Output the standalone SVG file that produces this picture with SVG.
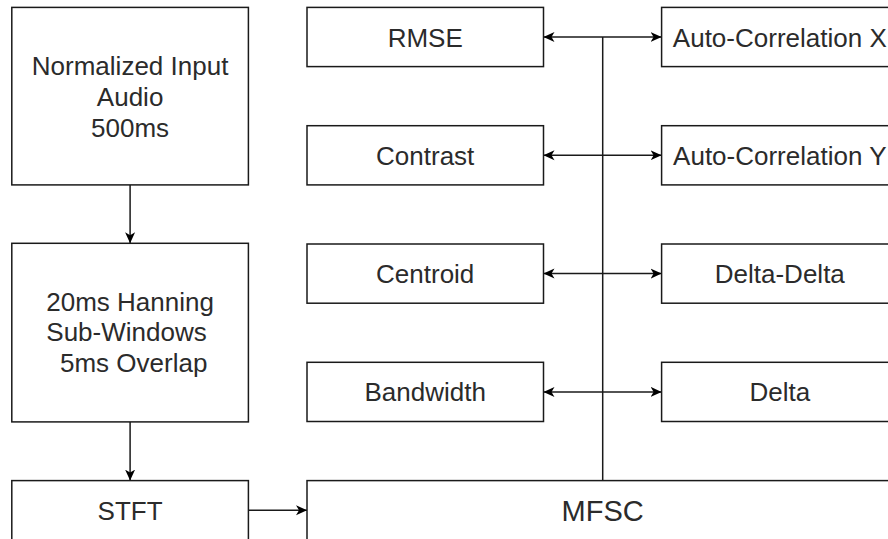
<svg xmlns="http://www.w3.org/2000/svg" width="888" height="539" viewBox="0 0 888 539">
<style>
.box{fill:#ffffff;stroke:#1a1a1a;stroke-width:1.5}
.t{font-family:"Liberation Sans",Arial,sans-serif;font-size:26px;fill:#2b2b2b;text-anchor:middle}
.big{font-size:29px}
.edge{fill:none;stroke:#1a1a1a;stroke-width:1.5}
</style>
<defs>
<marker id="arr" viewBox="0 0 11 11" refX="11" refY="5.5" markerWidth="11" markerHeight="11" markerUnits="userSpaceOnUse" orient="auto-start-reverse">
<path d="M0,0.5 L11,5.5 L0,10.5 L3,5.5 Z" fill="#000000"/>
</marker>
</defs>
<rect width="888" height="539" fill="#ffffff"/>

<g id="connectors">
<line class="edge" x1="130.1" y1="184.9" x2="130.1" y2="243.3" marker-end="url(#arr)"/>
<line class="edge" x1="130.1" y1="421.9" x2="130.1" y2="480.6" marker-end="url(#arr)"/>
<line class="edge" x1="248.4" y1="510.2" x2="307" y2="510.2" marker-end="url(#arr)"/>
<line class="edge" x1="602.7" y1="37" x2="602.7" y2="480.6"/>
<line class="edge" x1="543.5" y1="37" x2="661.6" y2="37" marker-start="url(#arr)" marker-end="url(#arr)"/>
<line class="edge" x1="543.5" y1="155.3" x2="661.6" y2="155.3" marker-start="url(#arr)" marker-end="url(#arr)"/>
<line class="edge" x1="543.5" y1="273.6" x2="661.6" y2="273.6" marker-start="url(#arr)" marker-end="url(#arr)"/>
<line class="edge" x1="543.5" y1="391.9" x2="661.6" y2="391.9" marker-start="url(#arr)" marker-end="url(#arr)"/>
</g>

<g id="input">
<rect class="box" x="11.8" y="7.4" width="236.6" height="177.5"/>
<text class="t" x="130.1" y="74.5">Normalized Input</text>
<text class="t" x="130.1" y="105.5">Audio</text>
<text class="t" x="130.1" y="136.5">500ms</text>
</g>

<g id="hanning">
<rect class="box" x="11.8" y="243.3" width="236.6" height="178.6"/>
<text class="t" x="130.1" y="310.5">20ms Hanning</text>
<text class="t" x="126.5" y="341">Sub-Windows</text>
<text class="t" x="133.7" y="371.5">5ms Overlap</text>
</g>

<g id="stft">
<rect class="box" x="11.8" y="480.6" width="236.6" height="59.2"/>
<text class="t" x="130.1" y="519.5">STFT</text>
</g>

<g id="mfsc">
<rect class="box" x="307" y="480.6" width="591.6" height="59.2"/>
<text class="t big" x="602.7" y="520.7">MFSC</text>
</g>

<g id="rmse">
<rect class="box" x="307" y="7.4" width="236.5" height="59.2"/>
<text class="t" x="425.2" y="46.5">RMSE</text>
</g>
<g id="contrast">
<rect class="box" x="307" y="125.7" width="236.5" height="59.2"/>
<text class="t" x="425.2" y="164.8">Contrast</text>
</g>
<g id="centroid">
<rect class="box" x="307" y="244" width="236.5" height="59.2"/>
<text class="t" x="425.2" y="283.1">Centroid</text>
</g>
<g id="bandwidth">
<rect class="box" x="307" y="362.3" width="236.5" height="59.2"/>
<text class="t" x="425.2" y="401.4">Bandwidth</text>
</g>

<g id="autocorr-x">
<rect class="box" x="661.6" y="7.4" width="236.5" height="59.2"/>
<text class="t" x="779.8" y="46.5">Auto-Correlation X</text>
</g>
<g id="autocorr-y">
<rect class="box" x="661.6" y="125.7" width="236.5" height="59.2"/>
<text class="t" x="779.8" y="164.8">Auto-Correlation Y</text>
</g>
<g id="delta-delta">
<rect class="box" x="661.6" y="244" width="236.5" height="59.2"/>
<text class="t" x="779.8" y="283.1">Delta-Delta</text>
</g>
<g id="delta">
<rect class="box" x="661.6" y="362.3" width="236.5" height="59.2"/>
<text class="t" x="779.8" y="401.4">Delta</text>
</g>
</svg>
